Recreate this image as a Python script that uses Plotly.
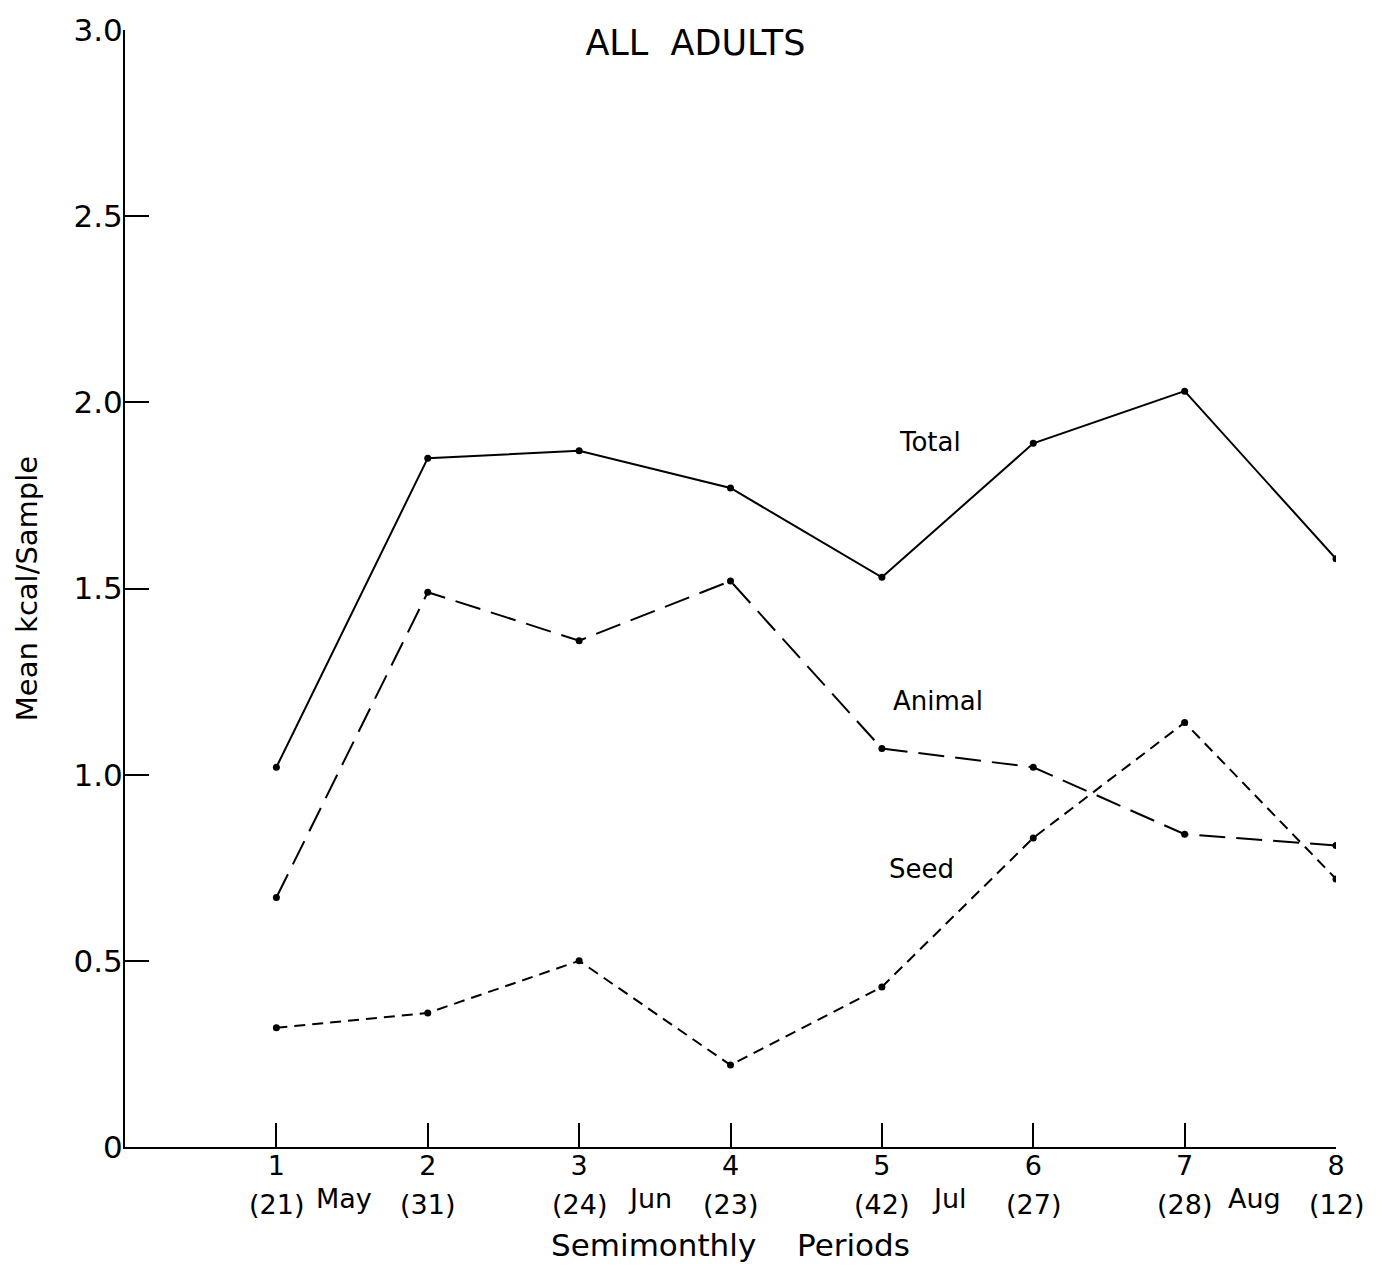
import plotly.graph_objects as go

# Semimonthly sampling periods and number of samples in each
periods = [1, 2, 3, 4, 5, 6, 7, 8]
sample_sizes = [21, 31, 24, 23, 42, 27, 28, 12]

# Mean kcal per sample, all adults
total_kcal = [1.02, 1.85, 1.87, 1.77, 1.53, 1.89, 2.03, 1.58]
animal_kcal = [0.67, 1.49, 1.36, 1.52, 1.07, 1.02, 0.84, 0.81]
seed_kcal = [0.32, 0.36, 0.50, 0.22, 0.43, 0.83, 1.14, 0.72]

months = ["May", "Jun", "Jul", "Aug"]
month_x = [1.45, 3.47, 5.45, 7.46]

y_ticks = [0, 0.5, 1.0, 1.5, 2.0, 2.5, 3.0]
y_tick_labels = ["0", "0.5", "1.0", "1.5", "2.0", "2.5", "3.0"]

FONT = "DejaVu Sans"
INK = "black"

series = [
    ("Total", total_kcal, "solid", 5.32, 1.894),
    ("Animal", animal_kcal, "26px,11px", 5.37, 1.197),
    ("Seed", seed_kcal, "11px,7px", 5.26, 0.747),
]

fig = go.Figure()
for name, vals, dash, _, _ in series:
    fig.add_trace(go.Scatter(
        x=periods, y=vals, mode="lines+markers", name=name,
        line=dict(color=INK, width=2, dash=dash),
        marker=dict(color=INK, size=7),
        showlegend=False,
    ))

annotations = []
# line labels
for name, _, _, lx, ly in series:
    annotations.append(dict(
        x=lx, y=ly, xref="x", yref="y", text=name, showarrow=False,
        font=dict(family=FONT, size=26, color=INK),
        xanchor="center", yanchor="middle",
    ))
# sample sizes under each period number
for p, n in zip(periods, sample_sizes):
    annotations.append(dict(
        x=p, y=0, xref="x", yref="paper", text=f"({n})", showarrow=False,
        font=dict(family=FONT, size=27, color=INK),
        xanchor="center", yanchor="middle", yshift=-57,
    ))
# month names between periods
for m, mx in zip(months, month_x):
    annotations.append(dict(
        x=mx, y=0, xref="x", yref="paper", text=m, showarrow=False,
        font=dict(family=FONT, size=27, color=INK),
        xanchor="center", yanchor="middle", yshift=-51,
    ))

fig.update_layout(
    width=1377, height=1271,
    margin=dict(l=125, r=41, t=27, b=124),
    paper_bgcolor="white", plot_bgcolor="white",
    font=dict(family=FONT, color=INK),
    title=dict(
        text="ALL  ADULTS", x=0.505, xref="container", xanchor="center",
        y=1 - 43 / 1271, yref="container", yanchor="middle",
        font=dict(family=FONT, size=35, color=INK),
    ),
    annotations=annotations,
    xaxis=dict(
        range=[0, 8], tickvals=periods, ticktext=[str(p) for p in periods],
        ticks="inside", ticklen=24, tickwidth=2, tickcolor=INK,
        showline=True, linewidth=2, linecolor=INK,
        showgrid=False, zeroline=False,
        tickfont=dict(family=FONT, size=27, color=INK),
        ticklabelstandoff=-6,
        title=dict(text="Semimonthly\u2003 Periods", standoff=54,
                   font=dict(family=FONT, size=31, color=INK)),
    ),
    yaxis=dict(
        range=[0, 3.0], tickvals=y_ticks, ticktext=y_tick_labels,
        ticks="inside", ticklen=24, tickwidth=2, tickcolor=INK,
        showline=True, linewidth=2, linecolor=INK,
        showgrid=False, zeroline=False,
        tickfont=dict(family=FONT, size=31, color=INK),
        ticklabelstandoff=-6,
        title=dict(text="Mean kcal/Sample", standoff=27,
                   font=dict(family=FONT, size=29, color=INK)),
    ),
)

fig.write_html("out.html")
